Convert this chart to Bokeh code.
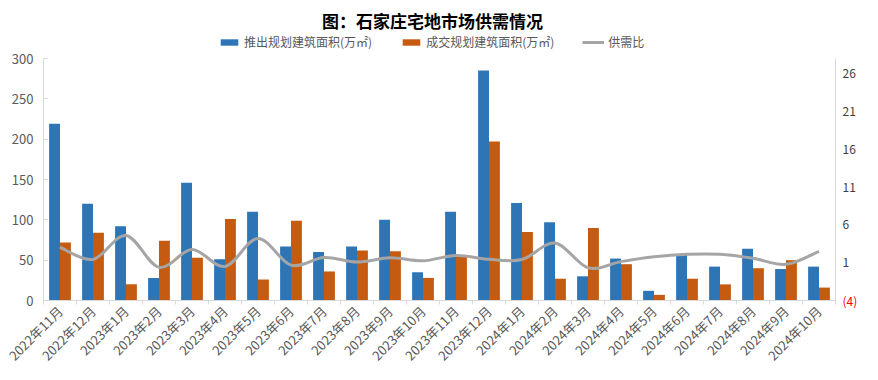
import numpy as np
from bokeh.plotting import figure
from bokeh.models import (Range1d, LinearAxis, FixedTicker, Legend, LegendItem,
                          ColumnDataSource, Label)
from bokeh.transform import dodge
from bokeh.embed import file_html
from bokeh.resources import INLINE

# ---------------- data ----------------
months = ["2022年11月", "2022年12月", "2023年1月", "2023年2月", "2023年3月", "2023年4月",
          "2023年5月", "2023年6月", "2023年7月", "2023年8月", "2023年9月", "2023年10月",
          "2023年11月", "2023年12月", "2024年1月", "2024年2月", "2024年3月", "2024年4月",
          "2024年5月", "2024年6月", "2024年7月", "2024年8月", "2024年9月", "2024年10月"]
supply = [219, 120, 92, 28, 146, 51, 110, 67, 60, 67, 100, 35,
          110, 285, 121, 97, 30, 52, 12, 57, 42, 64, 39, 42]
deal = [72, 84, 20, 74, 53, 101, 26, 99, 36, 62, 61, 28,
        56, 197, 85, 27, 90, 45, 7, 27, 20, 40, 50, 16]
ratio = [3.04, 1.43, 4.6, 0.38, 2.75, 0.5, 4.2, 0.68, 1.67, 1.08, 1.64, 1.25,
         1.96, 1.45, 1.42, 3.6, 0.33, 1.14, 1.77, 2.1, 2.1, 1.58, 0.78, 2.5]
left_ticks = [0, 50, 100, 150, 200, 250, 300]
right_ticks = [-4, 1, 6, 11, 16, 21, 26]

title_text = "图：石家庄宅地市场供需情况"
name_supply = "推出规划建筑面积(万㎡)"
name_deal = "成交规划建筑面积(万㎡)"
name_ratio = "供需比"

BLUE = "#2E75B6"
ORANGE = "#C55A11"
GRAY = "#A5A5A5"
AXIS = "#D9D9D9"
LABEL = "#595959"
FONT = "Noto Sans CJK SC"

n = len(months)
xc = np.arange(n) + 0.5

# ---- layout (figure pixels); the frame covers the whole figure ----
W, H = 862, 372
PX_L, PX_R = 43, 835          # category area, left/right
PX_T, PX_B = 58, 300          # value area, top/bottom
lmin, lmax = left_ticks[0], left_ticks[-1]
rmin, rmax = -4, 28

def span(v0, v1, p0, p1, total, flip=False):
    k = (v1 - v0) / (p1 - p0)
    if flip:   # vertical: pixel grows downward
        return v0 - (total - p1) * k, v1 + p0 * k
    return v0 - p0 * k, v1 + (total - p1) * k

xr = span(0, n, PX_L, PX_R, W)
yr = span(lmin, lmax, PX_T, PX_B, H, flip=True)
rr = span(rmin, rmax, PX_T, PX_B, H, flip=True)

p = figure(width=W, height=H, output_backend="svg", toolbar_location=None,
           x_range=Range1d(*xr), y_range=Range1d(*yr),
           min_border=0, min_border_left=0, min_border_right=0,
           min_border_top=0, min_border_bottom=0, title_location=None)
p.extra_y_ranges = {"right": Range1d(*rr)}
p.outline_line_color = None
p.xgrid.visible = False
p.ygrid.visible = False
p.background_fill_color = "white"
p.border_fill_color = "white"

src = ColumnDataSource(dict(x=xc, supply=supply, deal=deal))
r_sup = p.vbar(x=dodge("x", -0.165, range=p.x_range), top="supply", width=0.33,
               source=src, fill_color=BLUE, line_color=None)
r_deal = p.vbar(x=dodge("x", 0.165, range=p.x_range), top="deal", width=0.33,
                source=src, fill_color=ORANGE, line_color=None)

# smooth line (cubic Bezier segments, control points from neighbouring values)
x0, y0, x1, y1, cx0, cy0, cx1, cy1 = ([] for _ in range(8))
for i in range(n - 1):
    a = i - 1 if i > 0 else i
    d = i + 2 if i + 2 < n else i + 1
    x0.append(xc[i]); y0.append(ratio[i])
    x1.append(xc[i + 1]); y1.append(ratio[i + 1])
    cx0.append(xc[i] + (xc[i + 1] - xc[a]) / 6)
    cy0.append(ratio[i] + (ratio[i + 1] - ratio[a]) / 6)
    cx1.append(xc[i + 1] - (xc[d] - xc[i]) / 6)
    cy1.append(ratio[i + 1] - (ratio[d] - ratio[i]) / 6)
bsrc = ColumnDataSource(dict(x0=x0, y0=y0, x1=x1, y1=y1, cx0=cx0, cy0=cy0, cx1=cx1, cy1=cy1))
r_ratio = p.bezier(x0="x0", y0="y0", x1="x1", y1="y1", cx0="cx0", cy0="cy0",
                   cx1="cx1", cy1="cy1", source=bsrc, line_color=GRAY, line_width=3,
                   y_range_name="right")

# bottom axis (at value 0)
xa = p.xaxis[0]
xa.fixed_location = lmin
xa.ticker = FixedTicker(ticks=list(xc), minor_ticks=list(np.arange(n + 1)))
xa.bounds = (0, n)
xa.major_label_overrides = {float(v): m for v, m in zip(xc, months)}
xa.major_label_orientation = np.pi / 4
xa.major_tick_line_color = None
xa.major_tick_in = 0
xa.major_tick_out = 0
xa.minor_tick_line_color = AXIS
xa.minor_tick_in = 0
xa.minor_tick_out = 4
xa.axis_line_color = AXIS
xa.major_label_text_color = LABEL
xa.major_label_text_font = FONT
xa.major_label_text_font_size = "13px"
xa.major_label_standoff = 4

# left axis (at category start)
ya = p.yaxis[0]
ya.fixed_location = 0
ya.ticker = FixedTicker(ticks=left_ticks)
ya.bounds = (lmin, lmax)
ya.minor_tick_line_color = None
ya.major_tick_in = 4
ya.major_tick_out = 0
ya.major_tick_line_color = AXIS
ya.axis_line_color = AXIS
ya.major_label_text_color = LABEL
ya.major_label_text_font = FONT
ya.major_label_text_font_size = "13px"
ya.major_label_standoff = 10

# right axes at the end of the categories (the negative label is red)
def right_axis(ticks, color, overrides, line_color):
    ax = LinearAxis(y_range_name="right", ticker=FixedTicker(ticks=ticks),
                    major_label_overrides=overrides, fixed_location=n,
                    bounds=(rmin, rmax))
    ax.minor_tick_line_color = None
    ax.major_tick_line_color = None
    ax.major_tick_in = 0
    ax.major_tick_out = 0
    ax.axis_line_color = line_color
    ax.major_label_text_color = color
    ax.major_label_text_font = FONT
    ax.major_label_text_font_size = "12px"
    ax.major_label_standoff = 7
    return ax

pos_ticks = [t for t in right_ticks if t >= 0]
neg_ticks = [t for t in right_ticks if t < 0]
p.add_layout(right_axis(pos_ticks, "#404040", {}, AXIS), "right")
p.add_layout(right_axis(neg_ticks, "#FF0000",
                        {t: "(" + str(abs(t)) + ")" for t in neg_ticks}, None), "right")

legend = Legend(items=[LegendItem(label=name_supply, renderers=[r_sup]),
                       LegendItem(label=name_deal, renderers=[r_deal]),
                       LegendItem(label=name_ratio, renderers=[r_ratio])],
                orientation="horizontal", location=(218, H - 50),
                glyph_width=22, glyph_height=8, label_standoff=4, spacing=28,
                label_text_font=FONT, label_text_font_size="12px",
                label_text_color=LABEL, border_line_color=None,
                background_fill_alpha=0, padding=0, margin=0, label_height=12)
p.add_layout(legend)

p.add_layout(Label(x=n / 2, y=yr[1], x_offset=-7, y_offset=-20, text=title_text,
                   text_align="center", text_baseline="middle", text_font=FONT,
                   text_font_size="17px", text_font_style="bold", text_color="#000000"))

open("out.html", "w").write(file_html(p, INLINE))
